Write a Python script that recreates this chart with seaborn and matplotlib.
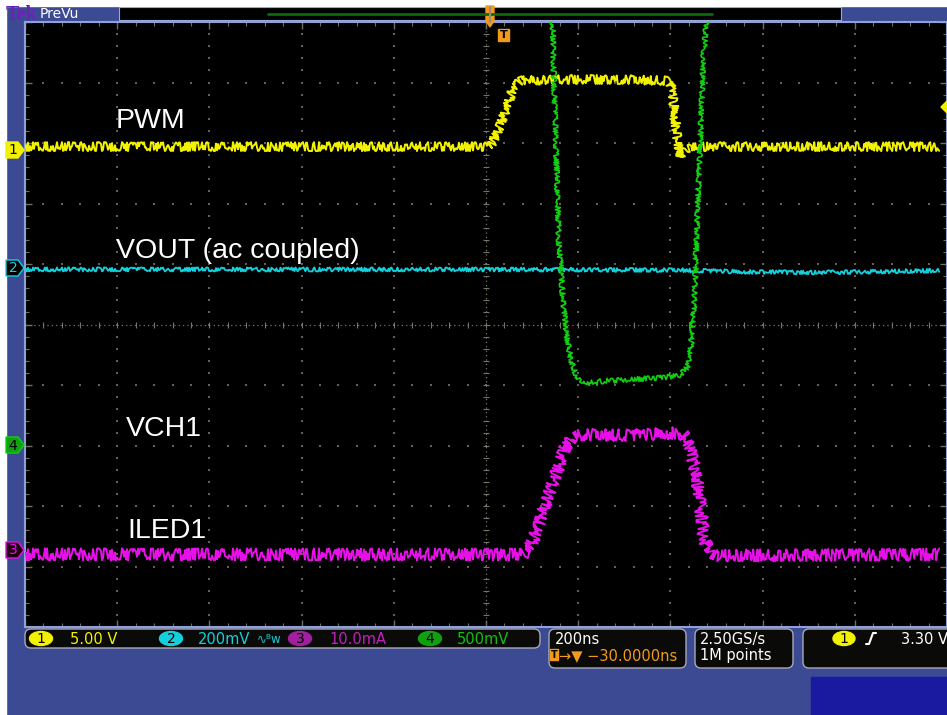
#Importamos librerias
import numpy as np
import matplotlib.pyplot as plt
import seaborn as sns
from matplotlib.patches import Rectangle, Polygon, FancyBboxPatch, Ellipse

# ---------------------------------------------------------
# Datos (tiempo en ns, nivel en divisiones)
# 200 ns/div, disparo en t = 0

pwm_t = [-1000, 6, 14, 32, 49, 60, 75, 160, 290, 396, 404, 413, 419, 430, 443, 983]
pwm_v = [2.94, 2.94, 3.01, 3.31, 3.69, 3.92, 4.03, 4.05, 4.05, 4.03, 3.88, 3.22, 2.76, 2.89, 2.94, 2.94]

vout_t = [-1000, -500, 0, 420, 560, 720, 983]
vout_v = [0.91, 0.91, 0.91, 0.90, 0.87, 0.86, 0.89]

vch1_t = [-1000, 142, 146, 152, 158, 167, 175, 184, 195, 210, 248, 312, 377, 420, 437, 445, 452, 458, 465, 471, 478, 486, 983]
vch1_v = [6.5, 6.5, 4.38, 2.89, 1.40, 0.41, -0.17, -0.58, -0.83, -0.98, -0.94, -0.91, -0.88, -0.84, -0.71, -0.33, 0.41, 1.74, 3.06, 4.38, 5.0, 6.5, 6.5]

iled_t = [-1000, 76, 86, 103, 119, 134, 155, 172, 189, 205, 312, 426, 441, 456, 467, 473, 488, 506, 983]
iled_v = [-3.80, -3.80, -3.77, -3.55, -3.22, -2.84, -2.40, -2.02, -1.85, -1.82, -1.83, -1.79, -2.02, -2.45, -3.11, -3.55, -3.77, -3.82, -3.80]

labels = ["PWM", "VOUT (ac coupled)", "VCH1", "ILED1"]
escalas = ["5.00 V", "200mV", "10.0mA", "500mV"]

# ---------------------------------------------------------

BLUE = "#3c4a94"
YEL = "#f2f200"
CYA = "#14d0dc"
GRN = "#10d010"
MAG = "#e810e8"
ORG = "#f39a1c"

sns.set_style("dark")
plt.rcParams["font.family"] = ["DejaVu Sans"]

fig = plt.figure(figsize=(9.47, 7.15), dpi=100, facecolor=BLUE)
ax = fig.add_axes([25 / 947, 88 / 715, 922 / 947, 605 / 715])
ax.set_facecolor("black")
ax.set_xlim(-1000, 982.8)
ax.set_ylim(-5, 5)

# reticula
ax.set_xticks(np.arange(-1000, 1001, 200))
ax.set_xticks(np.arange(-1000, 1001, 40), minor=True)
ax.set_yticks(np.arange(-5, 5.01, 1))
ax.set_yticks(np.arange(-5, 5.01, 0.2), minor=True)
ax.tick_params(which="both", direction="in", top=True, right=True, bottom=True, left=True,
               labelbottom=False, labelleft=False, color="#707060")
ax.tick_params(which="major", length=5, width=1)
ax.tick_params(which="minor", length=3, width=0.8)
for s in ax.spines.values():
    s.set_color("#8da0d8")
    s.set_linewidth(1.5)
ax.grid(False)

gx = np.arange(-1000, 1001, 200)[1:-1]
gy = np.arange(-5, 5.01, 0.2)
for x in gx:
    if x != 0:
        ax.scatter(np.full(len(gy), x), gy, s=1.4, marker="s", color="#62625a", linewidths=0, zorder=1)
hx = np.arange(-1000, 1001, 40)
for y in range(-4, 5):
    if y != 0:
        ax.scatter(hx, np.full(len(hx), y), s=1.4, marker="s", color="#62625a", linewidths=0, zorder=1)

# ejes centrales
ax.axvline(0, color="#75756a", lw=0.9, ls=(0, (1, 2.5)), zorder=1)
ax.axhline(0, color="#75756a", lw=0.9, ls=(0, (1, 2.5)), zorder=1)
ax.scatter(np.zeros(len(gy)), gy, s=14, marker="_", color="#75756a", linewidths=0.8, zorder=1)
ax.scatter(hx, np.zeros(len(hx)), s=14, marker="|", color="#75756a", linewidths=0.8, zorder=1)

# trazas
canales = [
    (pwm_t, pwm_v, YEL, 4.5, 1.4),
    (vout_t, vout_v, CYA, 2.0, 1.3),
    (vch1_t, vch1_v, GRN, 2.5, 1.2),
    (iled_t, iled_v, MAG, 6.0, 1.4),
]
for t, v, c, ruido, grosor in canales:
    n = len(ax.lines)
    sns.lineplot(x=t, y=v, ax=ax, color=c, lw=grosor, sort=False, estimator=None, zorder=3)
    linea = ax.lines[n]
    linea.set_sketch_params(scale=ruido, length=0.6, randomness=3)

# ---------------------------------------------------------
# capa superpuesta en pixeles
ov = fig.add_axes([0, 0, 1, 1], zorder=5)
ov.set_xlim(0, 947)
ov.set_ylim(715, 0)
ov.axis("off")
ov.patch.set_alpha(0)

ov.add_patch(Rectangle((0, 0), 947, 6, color="white"))
ov.add_patch(Rectangle((0, 0), 6, 715, color="white"))

# barra superior
ov.text(6, 20.5, "Tek", color="#7020b8", fontsize=14.5, family="Liberation Serif", fontweight="bold", va="baseline")
ov.text(40, 18, "PreVu", color="white", fontsize=10, va="baseline")
ov.add_patch(Rectangle((119, 6.5), 722, 13.5, facecolor="black", edgecolor="#9aa8d8", lw=0.8))
ov.plot([268, 712], [13.5, 13.5], color="#0b6b0b", lw=2)

# marcador de disparo
ov.add_patch(Polygon([(486, 6), (494, 6), (494, 21), (490, 27), (486, 21)], color=ORG))
ov.plot([490, 490], [7, 22], color="#9a8a7a", lw=1.5)
ov.add_patch(Rectangle((498, 29), 11, 12, color=ORG))
ov.text(503.5, 35.5, "T", color="black", fontsize=8, fontweight="bold", ha="center", va="center")

# nivel de disparo a la derecha
ov.add_patch(Polygon([(947, 101), (941, 107), (947, 113)], color=YEL))

# marcadores de canal
marcas = [("1", 150, YEL, "black", YEL), ("2", 268, "black", CYA, CYA),
          ("4", 445, "#10a010", "black", GRN), ("3", 550, "#200010", MAG, MAG)]
for num, yc, fondo, txt, borde in marcas:
    ov.add_patch(Polygon([(6, yc - 8), (18, yc - 8), (24, yc), (18, yc + 8), (6, yc + 8)],
                         facecolor=fondo, edgecolor=borde, lw=1))
    ov.text(13, yc + 0.5, num, color=txt, fontsize=10, ha="center", va="center")

# etiquetas
ov.text(116, 128, labels[0], color="white", fontsize=20.5, family="Liberation Sans", va="baseline")
ov.text(116, 258, labels[1], color="white", fontsize=20.5, family="Liberation Sans", va="baseline")
ov.text(126, 436, labels[2], color="white", fontsize=20.5, family="Liberation Sans", va="baseline")
ov.text(127, 538, labels[3], color="white", fontsize=20.5, family="Liberation Sans", va="baseline")

# barra de estado
def caja(x0, y0, x1, y1):
    ov.add_patch(FancyBboxPatch((x0, y0), x1 - x0, y1 - y0, boxstyle="round,pad=0,rounding_size=6",
                                facecolor="#0a0a08", edgecolor="#a8a8b8", lw=1))

caja(25, 629, 540, 648)
caja(549, 629, 686, 668)
caja(695, 629, 793, 668)
caja(803, 629, 960, 668)

badges = [(41, YEL, escalas[0], 70), (171, CYA, escalas[1], 198), (300, "#a020a0", escalas[2], 329), (430, "#10a010", escalas[3], 457)]
tcolors = [YEL, CYA, "#c020c0", "#10c010"]
for i, (bx, bc, txt, tx) in enumerate(badges):
    ov.add_patch(Ellipse((bx, 638.5), 23, 14, color=bc))
    ov.text(bx, 639, str([1, 2, 3, 4][i]), color="black", fontsize=10, ha="center", va="center")
    ov.text(tx, 644, txt, color=tcolors[i], fontsize=10.5, va="baseline")
ov.text(257, 643, "\u223f\u1d2ew", color=CYA, fontsize=8.5, va="baseline")

ov.text(555, 644, "200ns", color="white", fontsize=10.5, va="baseline")
ov.add_patch(Rectangle((550, 649), 8, 11, color=ORG))
ov.text(554, 655, "T", color="black", fontsize=7, fontweight="bold", ha="center", va="center")
ov.text(559, 660, "\u2192\u25bc \u221230.0000ns", color=ORG, fontsize=10.5, va="baseline")

ov.text(700, 644, "2.50GS/s", color="white", fontsize=10.5, va="baseline")
ov.text(700, 660, "1M points", color="white", fontsize=10.5, va="baseline")

ov.add_patch(Ellipse((844, 638.5), 22, 14, color=YEL))
ov.text(844, 639, "1", color="black", fontsize=10, ha="center", va="center")
ov.plot([866, 869, 873, 876], [644, 644, 633, 633], color="white", lw=1.5)
ov.text(901, 644, "3.30 V", color="white", fontsize=10.5, va="baseline")

ov.add_patch(Rectangle((811, 677), 136, 38, color="#1a1aa0"))

plt.savefig("out.png", dpi=100, facecolor=BLUE)
